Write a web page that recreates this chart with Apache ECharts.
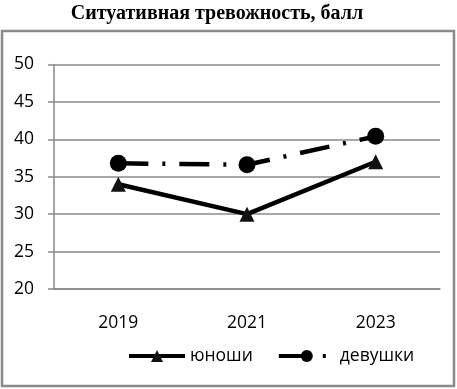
<!DOCTYPE html>
<html><head><meta charset="utf-8">
<script src="https://cdn.jsdelivr.net/npm/echarts@6/dist/echarts.min.js"></script>
<style>html,body{margin:0;padding:0;background:#fff}#c{width:457px;height:389px}</style>
</head><body><div id="c"></div>
<script>
const titleText = 'Ситуативная тревожность, балл';
const categories = ['2019', '2021', '2023'];
const boysName = 'юноши';
const boysValues = [34, 30, 37];
const girlsName = 'девушки';
const girlsValues = [36.8, 36.6, 40.4];
const yMin = 20, yMax = 50, yStep = 5;

const chart = echarts.init(document.getElementById('c'), null, {renderer: 'canvas'});
const axisFont = {fontFamily: 'Open Sans', fontSize: 17.5, color: '#000'};
chart.setOption({
  animation: false,
  backgroundColor: '#fff',
  title: {text: titleText, left: 212, textAlign: 'center', top: -1,
    textStyle: {fontFamily: 'Liberation Serif', fontWeight: 'bold', fontSize: 20, color: '#000'}},
  graphic: [{type: 'rect', shape: {x: 2, y: 31, width: 452, height: 355},
    style: {fill: 'none', stroke: '#8a8a8a', lineWidth: 2.5}, silent: true}],
  grid: {left: 54, right: 17, top: 64.5, bottom: 100},
  legend: {bottom: 19, left: 122, itemWidth: 56, itemHeight: 15, itemGap: 24,
    textStyle: {fontFamily: 'Open Sans', fontSize: 17.5, color: '#000'},
    lineStyle: {width: 4},
    data: [boysName, girlsName]},
  xAxis: {type: 'category', data: categories, boundaryGap: true,
    axisLine: {lineStyle: {color: '#8a8a8a', width: 1.5}},
    axisTick: {length: 6, lineStyle: {color: '#8a8a8a', width: 1.5}},
    axisLabel: Object.assign({margin: 25}, axisFont)},
  yAxis: {type: 'value', min: yMin, max: yMax, interval: yStep,
    axisLine: {show: true, lineStyle: {color: '#8a8a8a', width: 1.5}},
    axisTick: {show: true, length: 6, lineStyle: {color: '#8a8a8a', width: 1.5}},
    splitLine: {lineStyle: {color: '#8a8a8a', width: 1.5}},
    axisLabel: Object.assign({margin: 20}, axisFont)},
  series: [
    {name: boysName, type: 'line', data: boysValues, symbol: 'triangle', symbolSize: 15,
      lineStyle: {color: '#000', width: 4.5}, itemStyle: {color: '#111'}},
    {name: girlsName, type: 'line', data: girlsValues, symbol: 'circle', symbolSize: 17,
      lineStyle: {color: '#000', width: 4.5, type: [30, 14, 3, 14], cap: 'butt'}, itemStyle: {color: '#000'}}
  ]
});
</script></body></html>
